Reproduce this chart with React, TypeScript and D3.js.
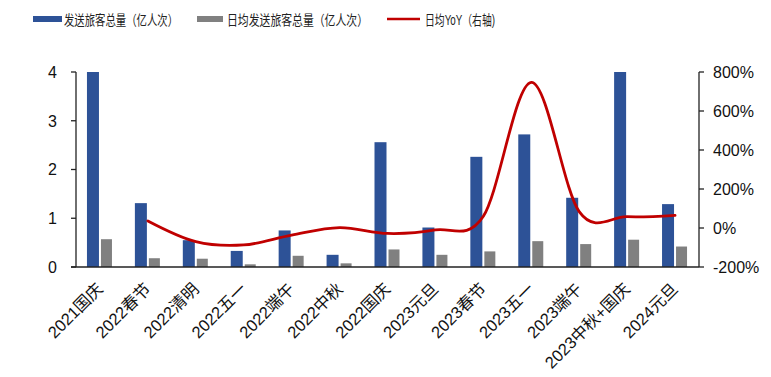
import React from "react";
import * as d3 from "d3";

const categories = ["2021国庆","2022春节","2022清明","2022五一","2022端午","2022中秋","2022国庆","2023元旦","2023春节","2023五一","2023端午","2023中秋+国庆","2024元旦"];
const totalPassengers = [4.0,1.31,0.55,0.33,0.75,0.25,2.56,0.81,2.26,2.72,1.42,4.0,1.29];
const dailyPassengers = [0.57,0.18,0.17,0.055,0.23,0.075,0.36,0.25,0.32,0.53,0.47,0.56,0.42];
const dailyYoY: (number | null)[] = [null,36,-70,-87,-36,2,-28,-10,60,747,84,58,65];
const leftTicks = [0,1,2,3,4];
const rightTicks = [-200,0,200,400,600,800];
const legendLabels = ["发送旅客总量（亿人次）","日均发送旅客总量（亿人次）","日均YoY（右轴)"];

const BLUE = "#2D5297";
const GRAY = "#808080";
const RED = "#C00000";
const FONT = "'Liberation Sans', Arial, 'Noto Sans CJK SC', sans-serif";

export default function App() {
  const W = 771, H = 377;
  const left = 76, right = 699, top = 72, bottom = 267;
  const x = d3.scaleBand<string>().domain(categories).range([left, right]).padding(0);
  const yL = d3.scaleLinear().domain([0, 4]).range([bottom, top]);
  const yR = d3.scaleLinear().domain([-200, 800]).range([bottom, top]);
  const cx = (c: string) => (x(c) as number) + x.bandwidth() / 2;

  const linePts = categories
    .map((c, i) => ({ c, v: dailyYoY[i] }))
    .filter((d) => d.v !== null) as { c: string; v: number }[];
  const line = d3
    .line<{ c: string; v: number }>()
    .x((d) => cx(d.c))
    .y((d) => yR(d.v))
    .curve(d3.curveCardinal.tension(0));

  return (
    <svg width={W} height={H} style={{ position: "absolute", left: 0, top: 0 }} fontFamily={FONT}>
      <rect width={W} height={H} fill="#fff" />
      {/* legend */}
      <g>
        <rect x={33} y={16} width={29} height={6} fill={BLUE} />
        <text x={64} y={25} fontSize={14} textLength={114} lengthAdjust="spacingAndGlyphs" fill="#222">{legendLabels[0]}</text>
        <rect x={197} y={16} width={26} height={6} fill={GRAY} />
        <text x={227} y={25} fontSize={14} textLength={141} lengthAdjust="spacingAndGlyphs" fill="#222">{legendLabels[1]}</text>
        <line x1={387} x2={420} y1={19} y2={19} stroke={RED} strokeWidth={2.5} />
        <text x={425} y={25} fontSize={14} textLength={70} lengthAdjust="spacingAndGlyphs" fill="#222">{legendLabels[2]}</text>
      </g>
      {/* bars */}
      {categories.map((c, i) => (
        <g key={c}>
          <rect x={cx(c) - 13} y={yL(totalPassengers[i])} width={12} height={bottom - yL(totalPassengers[i])} fill={BLUE} />
          <rect x={cx(c) + 1} y={yL(dailyPassengers[i])} width={11} height={bottom - yL(dailyPassengers[i])} fill={GRAY} />
        </g>
      ))}
      {/* line */}
      <path d={line(linePts) || ""} fill="none" stroke={RED} strokeWidth={2.8} strokeLinejoin="round" strokeLinecap="round" />
      {/* axes */}
      <line x1={left} x2={left} y1={top} y2={bottom} stroke="#222" strokeWidth={1.3} />
      <line x1={right} x2={right} y1={top} y2={bottom} stroke="#222" strokeWidth={1.3} />
      <line x1={left - 5} x2={right} y1={bottom} y2={bottom} stroke="#222" strokeWidth={1.3} />
      {leftTicks.map((t) => (
        <g key={"l" + t}>
          <line x1={left - 5} x2={left} y1={yL(t)} y2={yL(t)} stroke="#222" strokeWidth={1.3} />
          <text x={57} y={yL(t)} dy="0.36em" textAnchor="end" fontSize={16} fill="#111">{t}</text>
        </g>
      ))}
      {rightTicks.map((t) => (
        <g key={"r" + t}>
          <line x1={right} x2={right + 5} y1={yR(t)} y2={yR(t)} stroke="#222" strokeWidth={1.3} />
          <text x={713} y={yR(t)} dy="0.36em" textAnchor="start" fontSize={16} fill="#111">{t + "%"}</text>
        </g>
      ))}
      {/* x labels */}
      {categories.map((c) => (
        <text key={"x" + c} transform={`translate(${cx(c) + 4},${290}) rotate(-45)`} textAnchor="end" fontSize={16.5} fill="#111">{c}</text>
      ))}
    </svg>
  );
}
